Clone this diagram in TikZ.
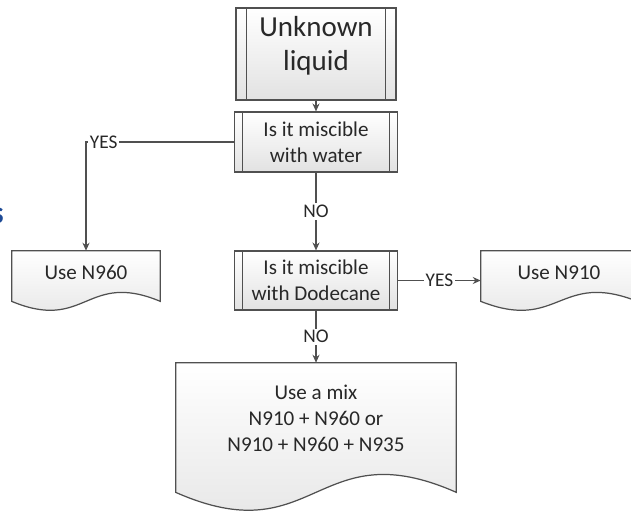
\documentclass[tikz,border=0pt]{standalone}
\usepackage{fontspec}
\setmainfont{Carlito}
\usetikzlibrary{arrows.meta,backgrounds}
\definecolor{flowline}{RGB}{80,80,80}
\definecolor{flowtext}{RGB}{40,40,40}
\definecolor{flowshade}{RGB}{226,226,226}
\definecolor{cutblue}{RGB}{30,75,150}
\tikzset{
  boxline/.style={draw=flowline,line width=0.7pt},
  boxfill/.style={top color=white,bottom color=flowshade},
  procbox/.style={boxline,boxfill,align=center,text=flowtext,inner sep=0pt,font=\fontsize{12}{14.8}\selectfont},
  docbox/.style={align=center,text=flowtext,inner sep=0pt,font=\fontsize{12}{14.8}\selectfont},
  conn/.style={draw=flowline,line width=0.6pt,-{Stealth[length=4.5pt,width=4pt]}},
  lbl/.style={fill=white,inner sep=1pt,text=flowtext,font=\fontsize{11}{13}\selectfont},
}
\newcommand{\pbars}[2]{%
  \draw[boxline] ([xshift=#2]#1.north west) -- ([xshift=#2]#1.south west);
  \draw[boxline] ([xshift=-#2]#1.north east) -- ([xshift=-#2]#1.south east);}
\newcommand{\docshape}[2]{%
  \begin{scope}[on background layer]
    \path[boxline,boxfill] (#1.north west) -- (#1.north east) -- (#1.south east)
      .. controls ([yshift=#2]#1.south) and ([yshift=-#2]#1.south) .. (#1.south west) -- cycle;
  \end{scope}}

\begin{document}
\begin{tikzpicture}[x=0.02cm,y=-0.02cm]
        \useasboundingbox (0,0) rectangle (631,511);
        % process boxes
        \node[procbox,minimum width=3.2cm,minimum height=1.84cm,font=\fontsize{16.5}{19.8}\selectfont,text depth=12pt] (unk) at (316,54) {Unknown\\liquid};
        \node[procbox,minimum width=3.26cm,minimum height=1.2cm] (water) at (316,142) {Is it miscible\\with water};
        \node[procbox,minimum width=3.26cm,minimum height=1.18cm] (dod) at (316,280.5) {Is it miscible\\with Dodecane};
        \pbars{unk}{0.22cm}\pbars{water}{0.17cm}\pbars{dod}{0.17cm}
        % document boxes
        \node[docbox,minimum width=2.96cm,minimum height=1cm,text depth=4pt] (n960) at (86,276) {Use N960};
        \node[docbox,minimum width=3.12cm,minimum height=1cm,text depth=4pt] (n910) at (559,276) {Use N910};
        \node[docbox,minimum width=5.6cm,minimum height=2.58cm,text depth=10pt] (mix) at (316,427.5) {Use a mix\\N910 + N960 or\\N910 + N960 + N935};
        \docshape{n960}{0.62cm}\docshape{n910}{0.62cm}\docshape{mix}{1.24cm}
        % cut-off title letter
        \node[text=cutblue,font=\fontsize{18}{20}\selectfont\bfseries,anchor=base east,inner sep=0pt] (cut) at (4,223) {s};
        % connectors
        \draw[conn] (unk) -- (water);
        \draw[conn] (water.west) -| node[lbl,pos=0.44] {YES} (n960.north);
        \draw[conn] (water) -- node[lbl] {NO} (dod);
        \draw[conn] (dod.east) -- node[lbl] {YES} (dod.east -| n910.west);
        \draw[conn] (dod) -- node[lbl] {NO} (mix);
\end{tikzpicture}
\end{document}
